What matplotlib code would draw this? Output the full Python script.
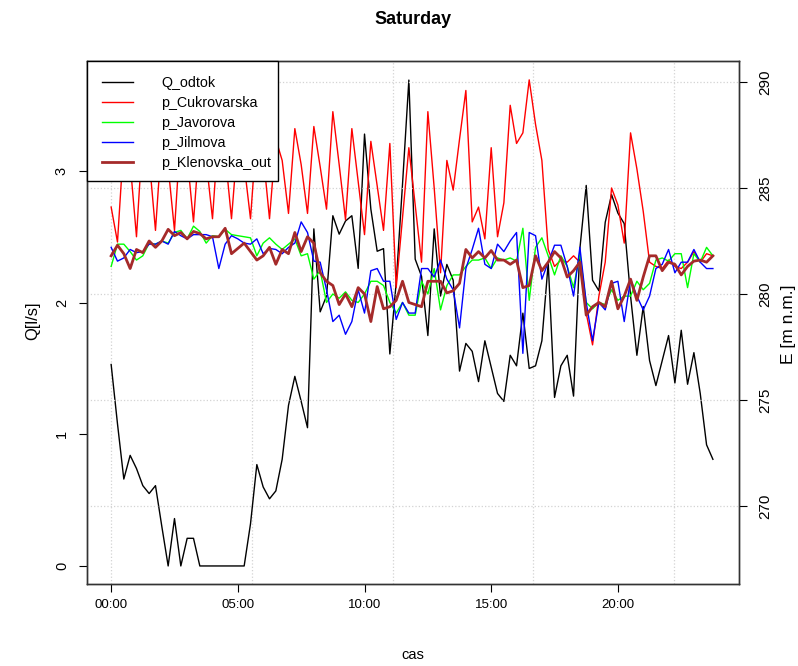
import numpy as np
import matplotlib
matplotlib.use("Agg")
from matplotlib import pyplot as plt
from matplotlib.patches import Rectangle

plt.rcParams['font.family'] = ['Liberation Sans', 'DejaVu Sans']

# 15 minute samples over the day, in hours
times = np.arange(96) * 0.25

q_odtok = [1.53, 1.08, 0.66, 0.84, 0.74, 0.61, 0.55, 0.61, 0.30, 0.00,
           0.36, 0.00, 0.21, 0.21, 0.00, 0.00, 0.00, 0.00, 0.00, 0.00,
           0.00, 0.00, 0.32, 0.77, 0.60, 0.51, 0.57, 0.81, 1.22, 1.44,
           1.25, 1.05, 2.56, 1.93, 2.05, 2.66, 2.52, 2.62, 2.66, 2.26,
           3.28, 2.71, 2.39, 2.41, 1.61, 2.15, 2.90, 3.69, 2.33, 2.20,
           1.75, 2.56, 2.05, 2.29, 2.17, 1.48, 1.69, 1.63, 1.40, 1.71,
           1.51, 1.31, 1.25, 1.60, 1.52, 1.92, 1.50, 1.52, 1.71, 2.30,
           1.28, 1.52, 1.60, 1.29, 2.41, 2.89, 2.17, 2.09, 2.61, 2.82,
           2.68, 2.60, 2.05, 1.60, 1.97, 1.56, 1.37, 1.56, 1.75, 1.39,
           1.79, 1.38, 1.62, 1.31, 0.92, 0.81]

p_cukrovarska = [284.1, 282.45, 287.2, 286.2, 282.7, 287.6, 286.4, 283.0, 287.4, 286.0,
                 283.0, 287.8, 286.5, 283.4, 287.5, 286.3, 283.55, 287.9, 286.6, 283.55,
                 287.3, 286.1, 283.55, 287.7, 286.6, 283.55, 287.3, 286.3, 283.8, 287.8,
                 286.1, 283.8, 287.9, 286.0, 284.0, 288.6, 286.1, 283.5, 287.8, 285.3,
                 282.8, 287.2, 285.1, 283.0, 287.1, 280.3, 283.6, 286.9, 284.2, 281.5,
                 288.6, 285.0, 281.0, 286.3, 284.9, 287.3, 289.6, 283.4, 284.1, 282.6,
                 286.9, 282.7, 284.3, 288.9, 287.1, 287.6, 290.1, 288.0, 286.3, 282.1,
                 281.3, 281.6, 281.5, 281.8, 281.5, 279.1, 277.6, 279.9, 281.5, 285.0,
                 284.2, 282.4, 287.6, 285.9, 283.9, 281.5, 281.3, 281.2, 281.6, 281.3,
                 281.2, 281.5, 282.0, 281.5, 281.9, 281.8]

p_javorova = [281.3, 282.35, 282.35, 282.0, 281.6, 281.8, 282.4, 282.35, 282.5, 282.4,
              282.9, 283.0, 282.6, 283.2, 282.95, 282.4, 282.75, 282.7, 283.05, 282.8,
              282.75, 282.7, 282.65, 281.8, 282.4, 282.65, 282.35, 282.1, 282.35, 282.6,
              281.8, 281.9, 280.7, 281.1, 279.6, 280.0, 279.8, 280.1, 279.7, 279.6,
              280.0, 280.6, 280.6, 280.4, 279.6, 279.1, 279.6, 279.0, 279.0, 280.6,
              280.0, 281.2, 279.25, 280.4, 280.9, 280.9, 281.3, 281.6, 281.6, 281.7,
              281.2, 281.7, 281.6, 281.7, 281.55, 283.1, 279.7, 282.2, 282.65, 281.8,
              280.9, 281.8, 281.3, 280.3, 281.9, 279.6, 279.3, 279.6, 279.5, 280.2,
              279.7, 279.9, 279.9, 280.6, 280.2, 280.5, 281.6, 281.7, 281.55, 281.9,
              281.9, 280.3, 281.9, 281.5, 282.2, 281.8]

p_jilmova = [282.2, 281.55, 281.7, 282.1, 281.95, 282.0, 282.35, 282.35, 282.5, 282.35,
             282.95, 282.75, 282.6, 282.8, 282.8, 282.8, 282.7, 281.2, 282.35, 282.75,
             282.6, 282.4, 282.35, 282.6, 281.9, 282.15, 282.1, 281.9, 282.2, 282.4,
             283.4, 282.9, 281.55, 281.5, 280.2, 278.7, 279.0, 278.1, 278.7, 280.2,
             279.1, 281.1, 281.2, 280.6, 280.6, 278.8, 279.6, 279.1, 279.1, 281.2,
             281.2, 280.8, 281.6, 280.7, 280.2, 278.4, 281.2, 282.1, 283.1, 281.4,
             281.2, 282.35, 282.0, 282.5, 282.9, 277.2, 282.9, 282.75, 280.7, 281.5,
             282.3, 282.3, 281.3, 279.9, 282.2, 279.6, 277.8, 279.6, 279.25, 280.5,
             280.6, 278.7, 280.7, 279.9, 279.25, 279.9, 281.2, 281.4, 282.1, 281.0,
             281.5, 281.5, 282.1, 281.5, 281.2, 281.2]

p_klenovska_out = [281.8, 282.3, 281.9, 281.2, 282.1, 281.95, 282.5, 282.2, 282.5, 283.05,
                   282.75, 282.9, 282.6, 282.95, 282.85, 282.6, 282.7, 282.7, 283.1, 281.9,
                   282.15, 282.4, 282.0, 281.6, 281.8, 282.2, 281.4, 282.1, 281.9, 282.9,
                   282.0, 282.7, 282.4, 281.0, 280.6, 280.4, 279.5, 280.0, 279.4, 280.3,
                   280.0, 278.7, 280.35, 279.3, 279.4, 279.7, 280.6, 279.6, 279.5, 279.4,
                   280.6, 280.6, 280.6, 280.05, 280.15, 280.5, 282.1, 281.7, 282.0, 281.7,
                   282.05, 281.6, 281.6, 281.4, 281.6, 280.3, 280.4, 281.8, 281.1, 281.5,
                   282.0, 281.7, 280.8, 281.1, 281.5, 279.0, 279.4, 279.6, 279.4, 280.6,
                   279.3, 279.9, 280.7, 279.7, 280.8, 281.8, 281.8, 281.1, 281.5, 281.4,
                   280.9, 281.3, 281.55, 281.6, 281.5, 281.8]

q_ticks = [0, 1, 2, 3]
e_ticks = [270, 275, 280, 285, 290]
hour_ticks = [0, 5, 10, 15, 20]
hour_labels = ["00:00", "05:00", "10:00", "15:00", "20:00"]

fig = plt.figure(figsize=(7.98, 6.66), dpi=100)
ax = fig.add_axes([87 / 798, 1 - 584 / 666, 652 / 798, 523 / 666])
ax2 = ax.twinx()

# Q on the left axis
ax.plot(times, q_odtok, color="black", lw=1, label="Q_odtok")
ax.set_xlim(-0.953, 24.78)
ax.set_ylim(-0.137, 3.835)
ax.set_yticks(q_ticks)
ax.set_yticklabels([str(t) for t in q_ticks], rotation=90, va="center")
ax.set_xticks(hour_ticks)
ax.set_xticklabels(hour_labels)
ax.tick_params(axis="y", length=6, pad=7, labelsize=10.5)
ax.tick_params(axis="x", length=6, pad=5, labelsize=9.5)

# pressures on the right axis
ax2.plot(times, p_cukrovarska, color="red", lw=1)
ax2.plot(times, p_javorova, color="#00ff00", lw=1)
ax2.plot(times, p_jilmova, color="blue", lw=1)
ax2.plot(times, p_klenovska_out, color="#a52a2a", lw=2)
ax2.set_ylim(266.32, 290.99)
ax2.set_yticks(e_ticks)
ax2.set_yticklabels([str(t) for t in e_ticks], rotation=90, va="center")
ax2.tick_params(axis="y", length=6, pad=8, labelsize=11)

# grid: every 20000 s along x, E ticks along y
for gx in np.arange(0, 86400, 20000) / 3600.0:
    ax.axvline(gx, color="lightgray", ls=":", lw=0.9, zorder=0)
for gy in e_ticks:
    ax2.axhline(gy, color="lightgray", ls=":", lw=0.9, zorder=0)

for a in (ax, ax2):
    for s in a.spines.values():
        s.set_color("#333333")
        s.set_linewidth(1)

# legend box drawn by hand so its width fits the text like R's
ax2.add_patch(Rectangle((0, (584 - 181) / 523), (278 - 87) / 652, 1 - (584 - 181) / 523,
                        transform=ax2.transAxes, facecolor="white",
                        edgecolor="black", lw=1, zorder=4.5, clip_on=False))
names = ["Q_odtok", "p_Cukrovarska", "p_Javorova", "p_Jilmova", "p_Klenovska_out"]
cols = ["black", "red", "#00ff00", "blue", "#a52a2a"]
handles = [plt.Line2D([], [], color=c, lw=2 if n == "p_Klenovska_out" else 1)
           for n, c in zip(names, cols)]
leg = ax2.legend(handles, names, loc="upper left", bbox_to_anchor=(0, 1),
                 borderaxespad=0, frameon=False,
                 fontsize=10.3, handlelength=2.2, handletextpad=1.95,
                 labelspacing=0.42, borderpad=1.05)

fig.text(413 / 798, 1 - 20 / 666, "Saturday", ha="center", va="center",
         fontsize=13, fontweight="bold")
fig.text(413 / 798, 1 - 655 / 666, "cas", ha="center", va="center", fontsize=10.5)
fig.text(33 / 798, 1 - 321 / 666, "Q[l/s]", ha="center", va="center",
         rotation=90, fontsize=12)
fig.text(789 / 798, 1 - 324 / 666, "E [m n.m.]", ha="center", va="center",
         rotation=90, fontsize=12.5)

fig.savefig("out.png", dpi=100)
